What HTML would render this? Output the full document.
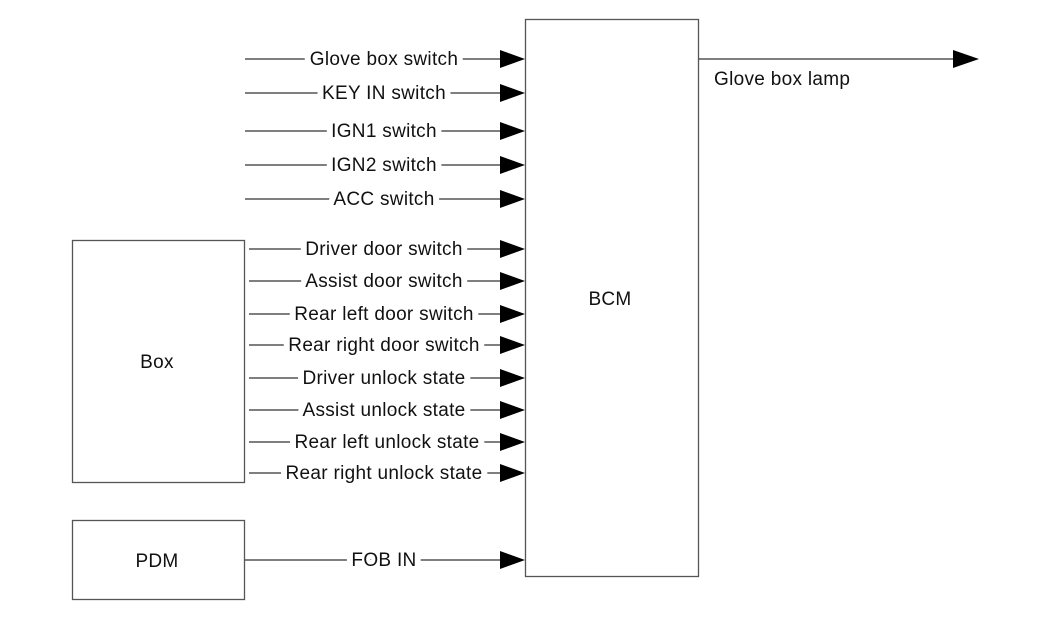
<!DOCTYPE html>
<html><head><meta charset="utf-8"><style>
html,body{margin:0;padding:0;background:#fff;}
svg{display:block;}
text{font-family:"Liberation Sans",sans-serif;font-size:19px;letter-spacing:0.3px;fill:#111;}
.l{paint-order:stroke;stroke:#fff;stroke-width:12px;stroke-linejoin:round;}
</style></head><body>
<svg width="1051" height="620" viewBox="0 0 1051 620" xmlns="http://www.w3.org/2000/svg">
<g fill="none" stroke="#555" stroke-width="1.3">
<rect x="525.5" y="19.5" width="173" height="557"/>
<rect x="72.5" y="240.5" width="172" height="242"/>
<rect x="72.5" y="520.5" width="172" height="79"/>
</g>
<g stroke="#333" stroke-width="1.2">
<line x1="245" y1="59" x2="505" y2="59"/>
<line x1="245" y1="93" x2="505" y2="93"/>
<line x1="245" y1="131" x2="505" y2="131"/>
<line x1="245" y1="165" x2="505" y2="165"/>
<line x1="245" y1="199" x2="505" y2="199"/>
<line x1="249" y1="249" x2="505" y2="249"/>
<line x1="249" y1="281" x2="505" y2="281"/>
<line x1="249" y1="314" x2="505" y2="314"/>
<line x1="249" y1="345" x2="505" y2="345"/>
<line x1="249" y1="378" x2="505" y2="378"/>
<line x1="249" y1="410" x2="505" y2="410"/>
<line x1="249" y1="442" x2="505" y2="442"/>
<line x1="249" y1="473" x2="505" y2="473"/>
<line x1="245" y1="560" x2="505" y2="560"/>
<line x1="699" y1="59" x2="960" y2="59"/>
</g>
<g fill="#000">
<polygon points="500,50 525,59 500,68"/>
<polygon points="500,84 525,93 500,102"/>
<polygon points="500,122 525,131 500,140"/>
<polygon points="500,156 525,165 500,174"/>
<polygon points="500,190 525,199 500,208"/>
<polygon points="500,240 525,249 500,258"/>
<polygon points="500,272 525,281 500,290"/>
<polygon points="500,305 525,314 500,323"/>
<polygon points="500,336 525,345 500,354"/>
<polygon points="500,369 525,378 500,387"/>
<polygon points="500,401 525,410 500,419"/>
<polygon points="500,433 525,442 500,451"/>
<polygon points="500,464 525,473 500,482"/>
<polygon points="500,551 525,560 500,569"/>
<polygon points="953,50 979,59 953,68"/>
</g>
<g text-anchor="middle">
<text class="l" x="384" y="65">Glove box switch</text>
<text class="l" x="384" y="99">KEY IN switch</text>
<text class="l" x="384" y="137">IGN1 switch</text>
<text class="l" x="384" y="171">IGN2 switch</text>
<text class="l" x="384" y="205">ACC switch</text>
<text class="l" x="384" y="255">Driver door switch</text>
<text class="l" x="384" y="287">Assist door switch</text>
<text class="l" x="384" y="320">Rear left door switch</text>
<text class="l" x="384" y="351">Rear right door switch</text>
<text class="l" x="384" y="384">Driver unlock state</text>
<text class="l" x="384" y="416">Assist unlock state</text>
<text class="l" x="387" y="448">Rear left unlock state</text>
<text class="l" x="384" y="479">Rear right unlock state</text>
<text class="l" x="384" y="566">FOB IN</text>
<text x="610" y="305">BCM</text>
<text x="157" y="368">Box</text>
<text x="157" y="567">PDM</text>
</g>
<text x="714" y="85">Glove box lamp</text>
</svg>
</body></html>
